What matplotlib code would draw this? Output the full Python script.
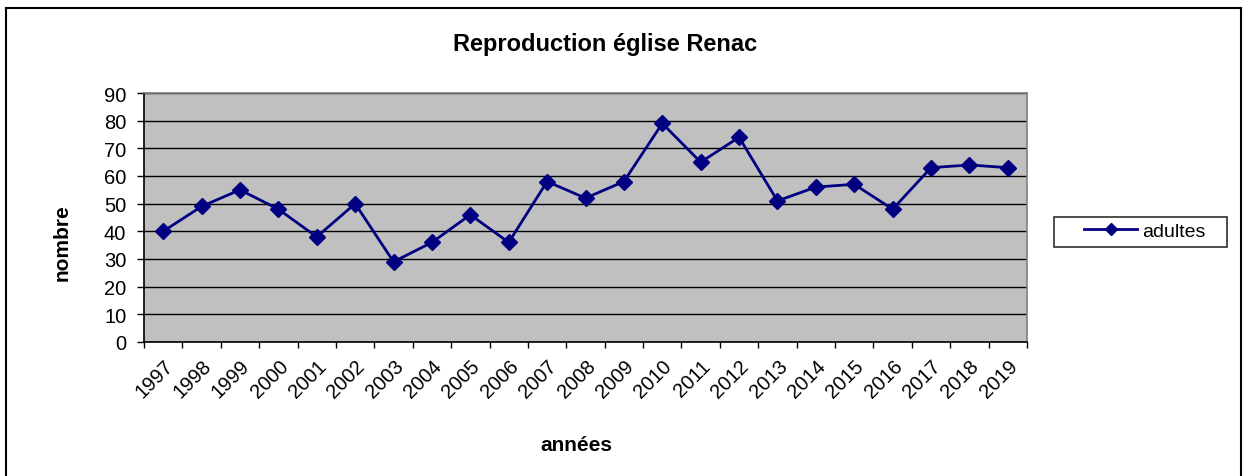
import matplotlib
matplotlib.use("Agg")
import matplotlib.pyplot as plt
from matplotlib.lines import Line2D
from matplotlib.patches import Rectangle

years = [str(y) for y in range(1997, 2020)]
adultes = [40, 49, 55, 48, 38, 50, 29, 36, 46, 36, 58, 52, 58, 79, 65, 74, 51, 56, 57, 48, 63, 64, 63]
yticks = [0, 10, 20, 30, 40, 50, 60, 70, 80, 90]

W, H = 1248, 477
plt.rcParams['font.family'] = ['Liberation Sans', 'DejaVu Sans']
fig = plt.figure(figsize=(W / 100, H / 100), dpi=100)

# outer chart border
fig.add_artist(Line2D([5.5 / W, 5.5 / W], [0, 1 - 8.5 / H], color='black', lw=1.5))
fig.add_artist(Line2D([1240.5 / W, 1240.5 / W], [0, 1 - 8.5 / H], color='black', lw=1.5))
fig.add_artist(Line2D([5.5 / W, 1240.5 / W], [1 - 8.5 / H, 1 - 8.5 / H], color='black', lw=1.5))

left, right, top, bottom = 144, 1027, 94, 343
ax = fig.add_axes([left / W, 1 - bottom / H, (right - left) / W, (bottom - top) / H])
ax.set_facecolor('#C0C0C0')

x = list(range(len(years)))
ax.set_xlim(-0.5, len(years) - 0.5)
ax.set_ylim(0, 90)
ax.set_yticks(yticks)
ax.yaxis.grid(True, color='black', lw=1)
ax.set_axisbelow(True)

ax.plot(x, adultes, color='#000080', lw=2, marker='D', markersize=8.5,
        markerfacecolor='#000080', markeredgecolor='#000080', label='adultes', zorder=3)

ax.set_xticks([i - 0.5 for i in range(len(years) + 1)])
ax.set_xticklabels([])
ax.set_xticks(x, minor=True)
ax.set_xticklabels(years, minor=True, rotation=45, ha='right', va='top',
                   rotation_mode='anchor', fontsize=14.5)
ax.tick_params(axis='x', which='minor', length=0, pad=10)
ax.tick_params(axis='x', which='major', length=4, width=1, color='black', direction='out')
ax.tick_params(axis='y', length=4.7, width=1, color='black', direction='out', labelsize=14.5, pad=8)

for s in ['top', 'right']:
    ax.spines[s].set_color('#808080')
    ax.spines[s].set_linewidth(1.2)
for s in ['left', 'bottom']:
    ax.spines[s].set_color('black')
    ax.spines[s].set_linewidth(1.2)

fig.text(605 / W, 1 - 44 / H, 'Reproduction église Renac', ha='center', va='center',
         fontsize=17, fontweight='bold')
fig.text(576 / W, 1 - 446 / H, 'années', ha='center', va='center', fontsize=15, fontweight='bold')
fig.text(62 / W, 1 - 243 / H, 'nombre', ha='center', va='center', rotation=90,
         fontsize=15, fontweight='bold')

# legend box
fig.add_artist(Rectangle((1053.5 / W, 1 - 247.5 / H), (1226 - 1053) / W, (247.5 - 217.5) / H,
                         transform=fig.transFigure, facecolor='white', edgecolor='#303030', lw=1.2))
leg = fig.legend(handles=[Line2D([0], [0], color='#000080', lw=2, marker='D', markersize=6.5)],
                 labels=['adultes'], loc='center left', bbox_to_anchor=(1084 / W, 1 - 232 / H),
                 frameon=False, fontsize=14, handlelength=2.75,
                 borderpad=0, handletextpad=0.25, borderaxespad=0)

fig.savefig('out.png', dpi=100)
